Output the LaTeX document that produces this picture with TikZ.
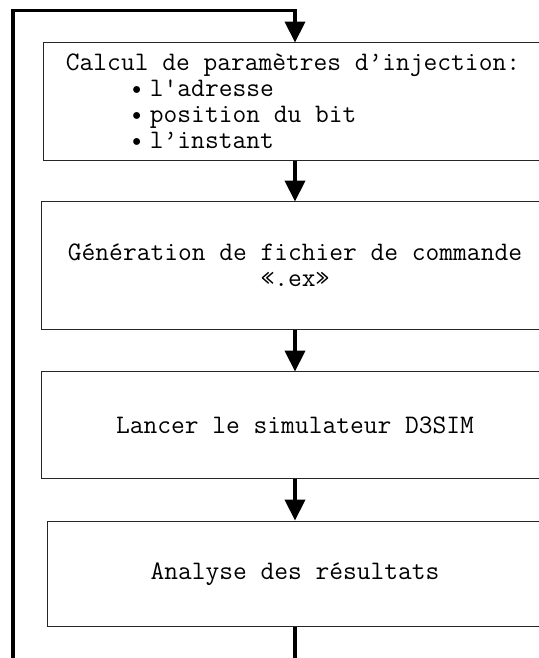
\documentclass[tikz,border=0pt]{standalone}
\usepackage{fontspec}
\usepackage{tikz}
\usetikzlibrary{arrows.meta}

\begin{document}
\begin{tikzpicture}[x=0.025cm,y=-0.025cm,
  stepbox/.style={draw=black!85,line width=0.7pt,inner sep=0pt,align=center,
    font=\ttfamily\fontsize{19}{18.5}\selectfont},
  flow/.style={line width=2.5pt,-{Triangle[length=0.52cm,width=0.5cm]}}]

  \useasboundingbox (0,0) rectangle (539,658);
  \clip (0,0) rectangle (539,658);

  % Etapes
  \node[stepbox,minimum width=12.45cm,minimum height=2.925cm,align=left] (calc) at (293,101.5)
    {Calcul de paramètres d’injection:\\
     \hspace*{1.6cm}\makebox[0.5cm][l]{\textbullet}l\textquotesingle adresse\\
     \hspace*{1.6cm}\makebox[0.5cm][l]{\textbullet}position du bit\\
     \hspace*{1.6cm}\makebox[0.5cm][l]{\textbullet}l’instant};
  \node[stepbox,minimum width=12.65cm,minimum height=3.175cm] (gen) at (295,265.5)
    {Génération de fichier de commande\\«.ex»};
  \node[stepbox,minimum width=12.65cm,minimum height=2.65cm] (sim) at (295,425)
    {Lancer le simulateur D3SIM};
  \node[stepbox,minimum width=12.375cm,minimum height=2.6375cm] (ana) at (295,573.75)
    {Analyse des résultats};

  % Boucle
  \coordinate (loopbr) at (295,680);
  \coordinate (loopbl) at (13,680);
  \coordinate (looptl) at (13,10.3);

  \draw [flow] (calc.south -| gen.north) to (gen);
  \draw [flow] (gen)  to (sim);
  \draw [flow] (sim)  to (ana);
  \draw [flow] (ana.south) -- (loopbr) -- (loopbl) -- (looptl) -| (gen.north |- calc.north);

\end{tikzpicture}
\end{document}
